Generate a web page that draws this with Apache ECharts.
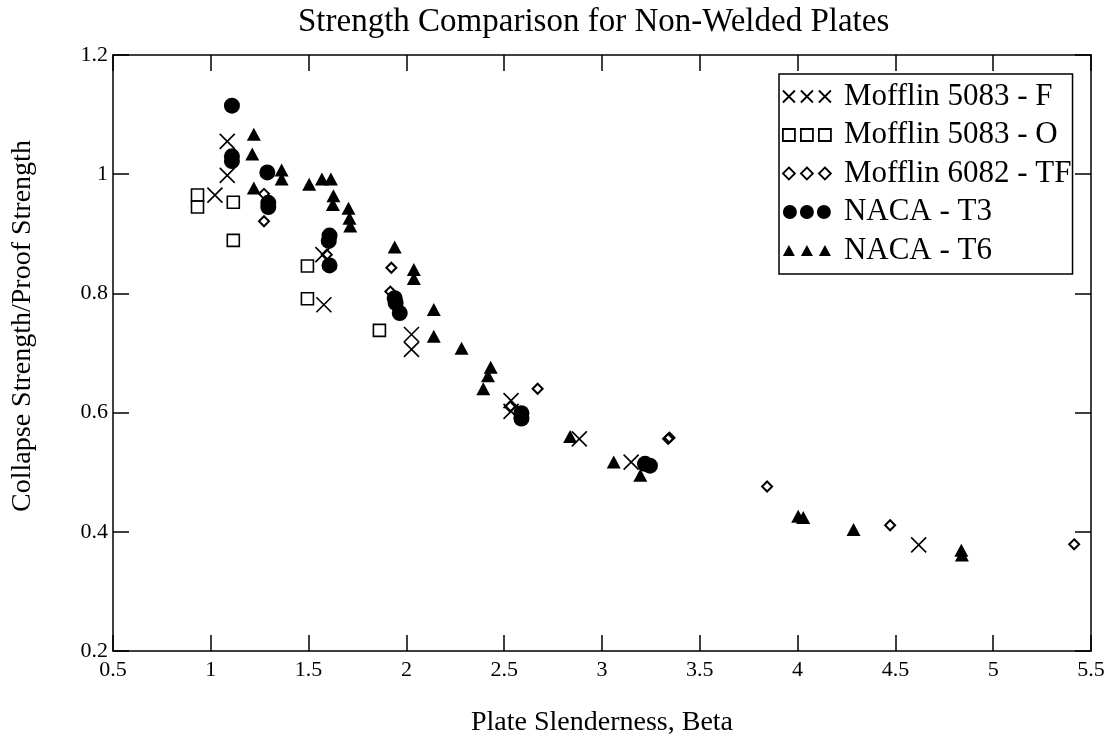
<!DOCTYPE html>
<html>
<head>
<meta charset="utf-8">
<script src="https://cdn.jsdelivr.net/npm/echarts@6/dist/echarts.min.js"></script>
<style>
html,body{margin:0;padding:0;background:#fff;}
#chart{width:1114px;height:750px;}
</style>
</head>
<body>
<div id="chart"></div>
<script>
const titleText = 'Strength Comparison for Non-Welded Plates';
const xName = 'Plate Slenderness, Beta';
const yName = 'Collapse Strength/Proof Strength';
const seriesNames = ['Mofflin 5083 - F', 'Mofflin 5083 - O', 'Mofflin 6082 - TF', 'NACA - T3', 'NACA - T6'];

const mofflin5083F = [[1.084,1.055],[1.084,0.998],[1.021,0.965],[1.573,0.865],[1.578,0.781],[2.026,0.731],[2.026,0.706],[2.535,0.620],[2.535,0.602],[2.884,0.556],[3.149,0.517],[4.619,0.378]];
const mofflin5083O = [[0.932,0.965],[0.932,0.945],[1.115,0.953],[1.115,0.889],[1.494,0.846],[1.494,0.791],[1.862,0.738]];
const mofflin6082TF = [[1.272,0.967],[1.272,0.921],[1.593,0.865],[1.923,0.843],[1.918,0.803],[2.530,0.610],[2.671,0.640],[3.345,0.558],[3.338,0.556],[3.844,0.476],[4.473,0.411],[5.414,0.379]];
const nacaT3 = [[1.108,1.115],[1.108,1.030],[1.108,1.022],[1.289,1.003],[1.294,0.952],[1.294,0.945],[1.607,0.897],[1.603,0.888],[1.607,0.847],[1.940,0.792],[1.945,0.784],[1.966,0.767],[2.588,0.599],[2.588,0.590],[3.220,0.514],[3.245,0.511]];
const nacaT6 = [[1.220,1.067],[1.212,1.034],[1.220,0.977],[1.362,1.007],[1.362,0.992],[1.503,0.983],[1.568,0.992],[1.614,0.992],[1.627,0.964],[1.624,0.949],[1.704,0.943],[1.709,0.926],[1.713,0.913],[1.940,0.878],[2.038,0.840],[2.038,0.825],[2.140,0.773],[2.140,0.728],[2.282,0.708],[2.431,0.676],[2.417,0.662],[2.393,0.640],[2.837,0.560],[3.060,0.517],[3.196,0.495],[4.003,0.426],[4.029,0.424],[4.286,0.404],[4.837,0.369],[4.840,0.361]];

const xMin = 0.5, xMax = 5.5, xStep = 0.5;
const yMin = 0.2, yMax = 1.2, yStep = 0.2;

const FONT = "'Liberation Serif', 'Times New Roman', 'DejaVu Serif', serif";

const icons = {
  cross: 'path://M0,0L12,12M12,0L0,12M18,0L30,12M30,0L18,12M36,0L48,12M48,0L36,12',
  square: 'path://M0,0H12V12H0ZM18,0H30V12H18ZM36,0H48V12H36Z',
  diamond: 'path://M6,0L12,6L6,12L0,6ZM24,0L30,6L24,12L18,6ZM42,0L48,6L42,12L36,6Z',
  circle: 'path://M0,7a7,7 0 1,0 14,0a7,7 0 1,0 -14,0ZM17,7a7,7 0 1,0 14,0a7,7 0 1,0 -14,0ZM34,7a7,7 0 1,0 14,0a7,7 0 1,0 -14,0Z',
  triangle: 'path://M6,1L12,12H0ZM24,1L30,12H18ZM42,1L48,12H36Z'
};

const chart = echarts.init(document.getElementById('chart'), null, {renderer: 'canvas'});

function axisCommon(showLabel) {
  return {
    axisLine: {show: true, lineStyle: {color: '#000', width: 1.5}},
    axisTick: {show: true, inside: true, length: 16, lineStyle: {color: '#000', width: 1.5}},
    splitLine: {show: false},
    axisLabel: {show: showLabel, color: '#000', fontFamily: FONT, fontSize: 22}
  };
}

const option = {
  animation: false,
  backgroundColor: '#fff',
  title: {
    text: titleText,
    left: 298,
    top: 0,
    padding: [6, 0, 0, 0],
    textStyle: {fontFamily: FONT, fontSize: 33, fontWeight: 'normal', color: '#000'}
  },
  grid: {left: 113, right: 23, top: 55, bottom: 99, containLabel: false},
  legend: {
    orient: 'vertical',
    left: 779,
    top: 74,
    padding: [7, 1, 8, 3],
    itemGap: 7.5,
    itemWidth: 48,
    itemHeight: 14,
    symbolKeepAspect: true,
    borderColor: '#000',
    borderWidth: 1.5,
    backgroundColor: '#fff',
    selectedMode: false,
    textStyle: {fontFamily: FONT, fontSize: 31, lineHeight: 30, color: '#000', padding: [0, 0, 0, 8]},
    data: [
      {name: seriesNames[0], icon: icons.cross, itemStyle: {color: '#fff', borderColor: '#000', borderWidth: 1.8, opacity: 1}},
      {name: seriesNames[1], icon: icons.square, itemStyle: {color: '#fff', borderColor: '#000', borderWidth: 1.8, opacity: 1}},
      {name: seriesNames[2], icon: icons.diamond, itemStyle: {color: '#fff', borderColor: '#000', borderWidth: 1.8, opacity: 1}},
      {name: seriesNames[3], icon: icons.circle, itemStyle: {color: '#000', borderWidth: 0, opacity: 1}},
      {name: seriesNames[4], icon: icons.triangle, itemStyle: {color: '#000', borderWidth: 0, opacity: 1}}
    ]
  },
  xAxis: [
    Object.assign({
      type: 'value', min: xMin, max: xMax, interval: xStep, position: 'bottom',
      name: xName, nameLocation: 'middle', nameGap: 58,
      nameTextStyle: {fontFamily: FONT, fontSize: 28, color: '#000'}
    }, axisCommon(true), {axisLabel: {show: true, color: '#000', fontFamily: FONT, fontSize: 22, margin: 8}}),
    Object.assign({
      type: 'value', min: xMin, max: xMax, interval: xStep, position: 'top'
    }, axisCommon(false))
  ],
  yAxis: [
    Object.assign({
      type: 'value', min: yMin, max: yMax, interval: yStep, position: 'left',
      name: yName, nameLocation: 'middle', nameGap: 76,
      nameTextStyle: {fontFamily: FONT, fontSize: 28, color: '#000', padding: [0, 0, 0, 54]}
    }, axisCommon(true), {axisLabel: {show: true, color: '#000', fontFamily: FONT, fontSize: 22, margin: 5}}),
    Object.assign({
      type: 'value', min: yMin, max: yMax, interval: yStep, position: 'right'
    }, axisCommon(false))
  ],
  series: [
    {
      name: seriesNames[0], type: 'scatter', data: mofflin5083F,
      symbol: 'path://M0,0L10,10M10,0L0,10', symbolSize: 15,
      itemStyle: {color: 'rgba(0,0,0,0)', borderColor: '#000', borderWidth: 1.6, opacity: 1}
    },
    {
      name: seriesNames[1], type: 'scatter', data: mofflin5083O,
      symbol: 'rect', symbolSize: 12,
      itemStyle: {color: 'rgba(255,255,255,0)', borderColor: '#000', borderWidth: 1.6, opacity: 1}
    },
    {
      name: seriesNames[2], type: 'scatter', data: mofflin6082TF,
      symbol: 'diamond', symbolSize: 10,
      itemStyle: {color: 'rgba(255,255,255,0)', borderColor: '#000', borderWidth: 2, opacity: 1}
    },
    {
      name: seriesNames[3], type: 'scatter', data: nacaT3,
      symbol: 'circle', symbolSize: 16,
      itemStyle: {color: '#000', borderWidth: 0, opacity: 1}
    },
    {
      name: seriesNames[4], type: 'scatter', data: nacaT6,
      symbol: 'triangle', symbolSize: [14, 13],
      itemStyle: {color: '#000', borderWidth: 0, opacity: 1}
    }
  ]
};
chart.setOption(option);
</script>
</body>
</html>
